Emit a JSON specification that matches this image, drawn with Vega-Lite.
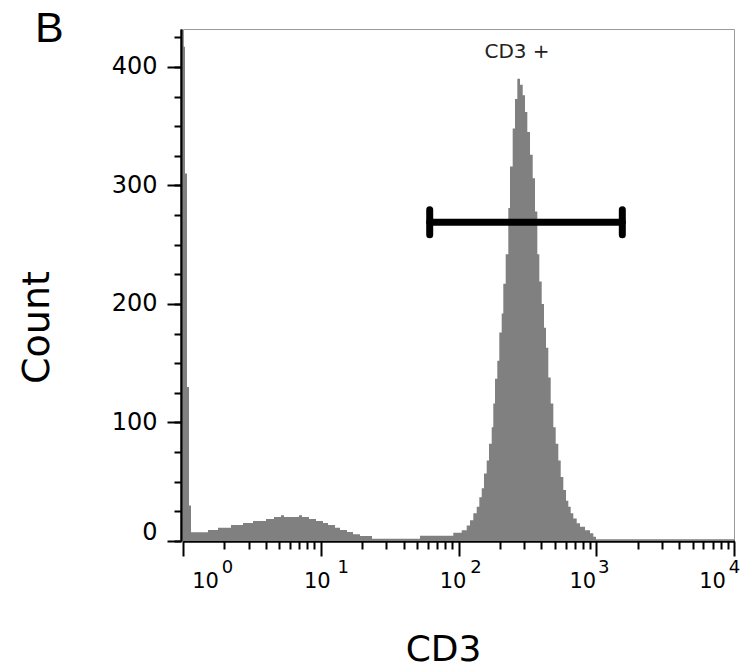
{
  "$schema": "https://vega.github.io/schema/vega-lite/v6.json",
  "width": 551,
  "height": 512,
  "autosize": {"type": "none"},
  "padding": {"left": 183, "top": 29, "right": 6, "bottom": 129},
  "background": "white",
  "title": {"text": "B", "anchor": "start", "frame": "group", "orient": "top", "fontSize": 43, "fontWeight": "normal", "font": "Liberation Sans", "color": "black", "baseline": "alphabetic", "offset": 0, "dx": -148, "dy": 56},
  "config": {
    "view": {"stroke": "#9a9a9a", "strokeWidth": 1},
    "axis": {"grid": false, "domainColor": "black", "tickColor": "black", "labelColor": "black", "labelFont": "DejaVu Sans", "titleFont": "DejaVu Sans", "titleFontWeight": "normal", "titleColor": "black"}
  },
  "datasets": {
    "hist": [
      {"cd3": 1, "count": 417}, {"cd3": 1.034, "count": 310}, {"cd3": 1.069, "count": 130}, {"cd3": 1.106, "count": 30},
      {"cd3": 1.143, "count": 7.3}, {"cd3": 1.518, "count": 9.2}, {"cd3": 1.795, "count": 11.2}, {"cd3": 2.231, "count": 13.4},
      {"cd3": 2.727, "count": 15.1}, {"cd3": 3.223, "count": 16.8}, {"cd3": 4.005, "count": 18.5}, {"cd3": 4.578, "count": 20.2},
      {"cd3": 5.145, "count": 21.8}, {"cd3": 5.41, "count": 20.2}, {"cd3": 6.952, "count": 21.8}, {"cd3": 7.31, "count": 20.2},
      {"cd3": 8.217, "count": 18.5}, {"cd3": 9.237, "count": 16.8}, {"cd3": 10.38, "count": 15.1}, {"cd3": 11.29, "count": 13.4},
      {"cd3": 12.69, "count": 11.2}, {"cd3": 13.8, "count": 9.2}, {"cd3": 15.51, "count": 7.5}, {"cd3": 17.15, "count": 5.8},
      {"cd3": 19.27, "count": 4.2}, {"cd3": 23.55, "count": 2}, {"cd3": 52.55, "count": 4.5}, {"cd3": 91.7, "count": 7},
      {"cd3": 105.5, "count": 9}, {"cd3": 114.7, "count": 13}, {"cd3": 121.2, "count": 17.6}, {"cd3": 128.1, "count": 23.5},
      {"cd3": 135.6, "count": 29}, {"cd3": 141.6, "count": 37}, {"cd3": 147.4, "count": 44.5}, {"cd3": 153.1, "count": 57},
      {"cd3": 160.2, "count": 68}, {"cd3": 166.5, "count": 82}, {"cd3": 174.2, "count": 96}, {"cd3": 178.9, "count": 116},
      {"cd3": 184.1, "count": 137}, {"cd3": 191.3, "count": 152}, {"cd3": 197.8, "count": 176}, {"cd3": 205.9, "count": 192},
      {"cd3": 211.5, "count": 217}, {"cd3": 220.1, "count": 242}, {"cd3": 229.9, "count": 281}, {"cd3": 236.5, "count": 316},
      {"cd3": 247.4, "count": 348}, {"cd3": 257.1, "count": 373}, {"cd3": 267.3, "count": 390}, {"cd3": 279.6, "count": 385},
      {"cd3": 292.5, "count": 376}, {"cd3": 303.9, "count": 362}, {"cd3": 315.9, "count": 345}, {"cd3": 330.5, "count": 326},
      {"cd3": 345.7, "count": 306}, {"cd3": 359.3, "count": 278}, {"cd3": 373.4, "count": 242}, {"cd3": 386.1, "count": 219},
      {"cd3": 401.8, "count": 200}, {"cd3": 417.6, "count": 180}, {"cd3": 431.8, "count": 163}, {"cd3": 448.7, "count": 138},
      {"cd3": 467.1, "count": 116}, {"cd3": 487.9, "count": 96}, {"cd3": 507.8, "count": 82}, {"cd3": 530.4, "count": 68},
      {"cd3": 552.1, "count": 54}, {"cd3": 576.6, "count": 43}, {"cd3": 603.2, "count": 34}, {"cd3": 626.8, "count": 29},
      {"cd3": 652.4, "count": 23.5}, {"cd3": 681.4, "count": 19}, {"cd3": 721.3, "count": 15}, {"cd3": 762.1, "count": 12},
      {"cd3": 828.6, "count": 9}, {"cd3": 900.6, "count": 6.5}, {"cd3": 951.9, "count": 3.5}, {"cd3": 995.9, "count": 1.5},
      {"cd3": 10000, "count": 1.5}
    ],
    "gate": [
      {"x": 61.8, "x2": 1546, "y": 269, "y2": 269},
      {"x": 61.8, "x2": 61.8, "y": 258.5, "y2": 279.5},
      {"x": 1546, "x2": 1546, "y": 258.5, "y2": 279.5}
    ],
    "label": [{"x": 266, "y": 413, "text": "CD3 +"}]
  },
  "resolve": {"axis": {"x": "independent", "y": "independent"}},
  "layer": [
    {
      "data": {"name": "hist"},
      "mark": {"type": "area", "interpolate": "step-after", "color": "#808080", "stroke": null},
      "encoding": {
        "x": {"field": "cd3", "type": "quantitative",
          "scale": {"type": "log", "domain": [1, 10000], "nice": false},
          "axis": {"orient": "bottom", "values": [1, 10, 100, 1000, 10000], "labelExpr": "'10'",
            "title": "CD3", "titleFontSize": 36, "titlePadding": 41, "titleX": 260,
            "tickSize": 15, "tickWidth": 2, "domainWidth": 2, "labelFontSize": 21, "labelPadding": 14,
            "labelAlign": "center",
            "labelOffset": {"condition": [
              {"test": "datum.value == 1", "value": 22},
              {"test": "datum.value == 10", "value": -4},
              {"test": "datum.value == 100", "value": -6},
              {"test": "datum.value == 1000", "value": -14}
            ], "value": -22},
            "labelBound": false, "labelOverlap": false}},
        "y": {"field": "count", "type": "quantitative",
          "scale": {"domain": [0, 432], "nice": false},
          "axis": {"orient": "left", "values": [0, 100, 200, 300, 400], "title": "Count", "titleFontSize": 38, "titlePadding": 55, "titleY": 298,
            "offset": 2, "tickSize": 14, "tickWidth": 2, "domainWidth": 2, "labelFontSize": 24, "labelPadding": 10,
            "labelOffset": {"condition": {"test": "datum.value == 0", "value": -9}, "value": 0},
            "labelOverlap": false, "labelBound": false}}
      }
    },
    {
      "data": {"name": "gate"},
      "mark": {"type": "rule", "color": "black", "strokeWidth": 7, "strokeCap": "round"},
      "encoding": {
        "x": {"field": "x", "type": "quantitative",
          "axis": {"orient": "bottom", "values": [2,3,4,5,6,7,8,9,20,30,40,50,60,70,80,90,200,300,400,500,600,700,800,900,2000,3000,4000,5000,6000,7000,8000,9000],
            "labels": false, "title": null, "tickSize": 8, "tickWidth": 2, "domainWidth": 2}},
        "x2": {"field": "x2"},
        "y": {"field": "y", "type": "quantitative",
          "axis": {"orient": "left", "values": [0,25,50,75,100,125,150,175,200,225,250,275,300,325,350,375,400,425],
            "labels": false, "title": null, "offset": 2, "tickSize": 7, "tickWidth": 2, "domainWidth": 2}},
        "y2": {"field": "y2"}
      }
    },
    {
      "data": {"name": "label"},
      "mark": {"type": "text", "font": "DejaVu Sans", "fontSize": 20, "color": "#222222", "baseline": "middle", "align": "center"},
      "encoding": {
        "x": {"field": "x", "type": "quantitative",
          "axis": {"orient": "bottom", "values": [1, 10, 100, 1000, 10000],
            "labelExpr": "'' + round(log(datum.value) / LN10)",
            "title": null, "ticks": false, "tickSize": 0, "domain": false, "labelFontSize": 18, "labelPadding": 17,
            "labelAlign": "center",
            "labelOffset": {"condition": [
              {"test": "datum.value == 1", "value": 44},
              {"test": "datum.value == 10", "value": 22},
              {"test": "datum.value == 100", "value": 17},
              {"test": "datum.value == 1000", "value": 7}
            ], "value": 0},
            "labelBound": false, "labelOverlap": false}},
        "y": {"field": "y", "type": "quantitative", "axis": null},
        "text": {"field": "text"}
      }
    },
    {
      "mark": {"type": "rule", "color": "black", "strokeWidth": 3},
      "encoding": {
        "x": {"datum": 10000, "axis": null}
      }
    }
  ]
}
